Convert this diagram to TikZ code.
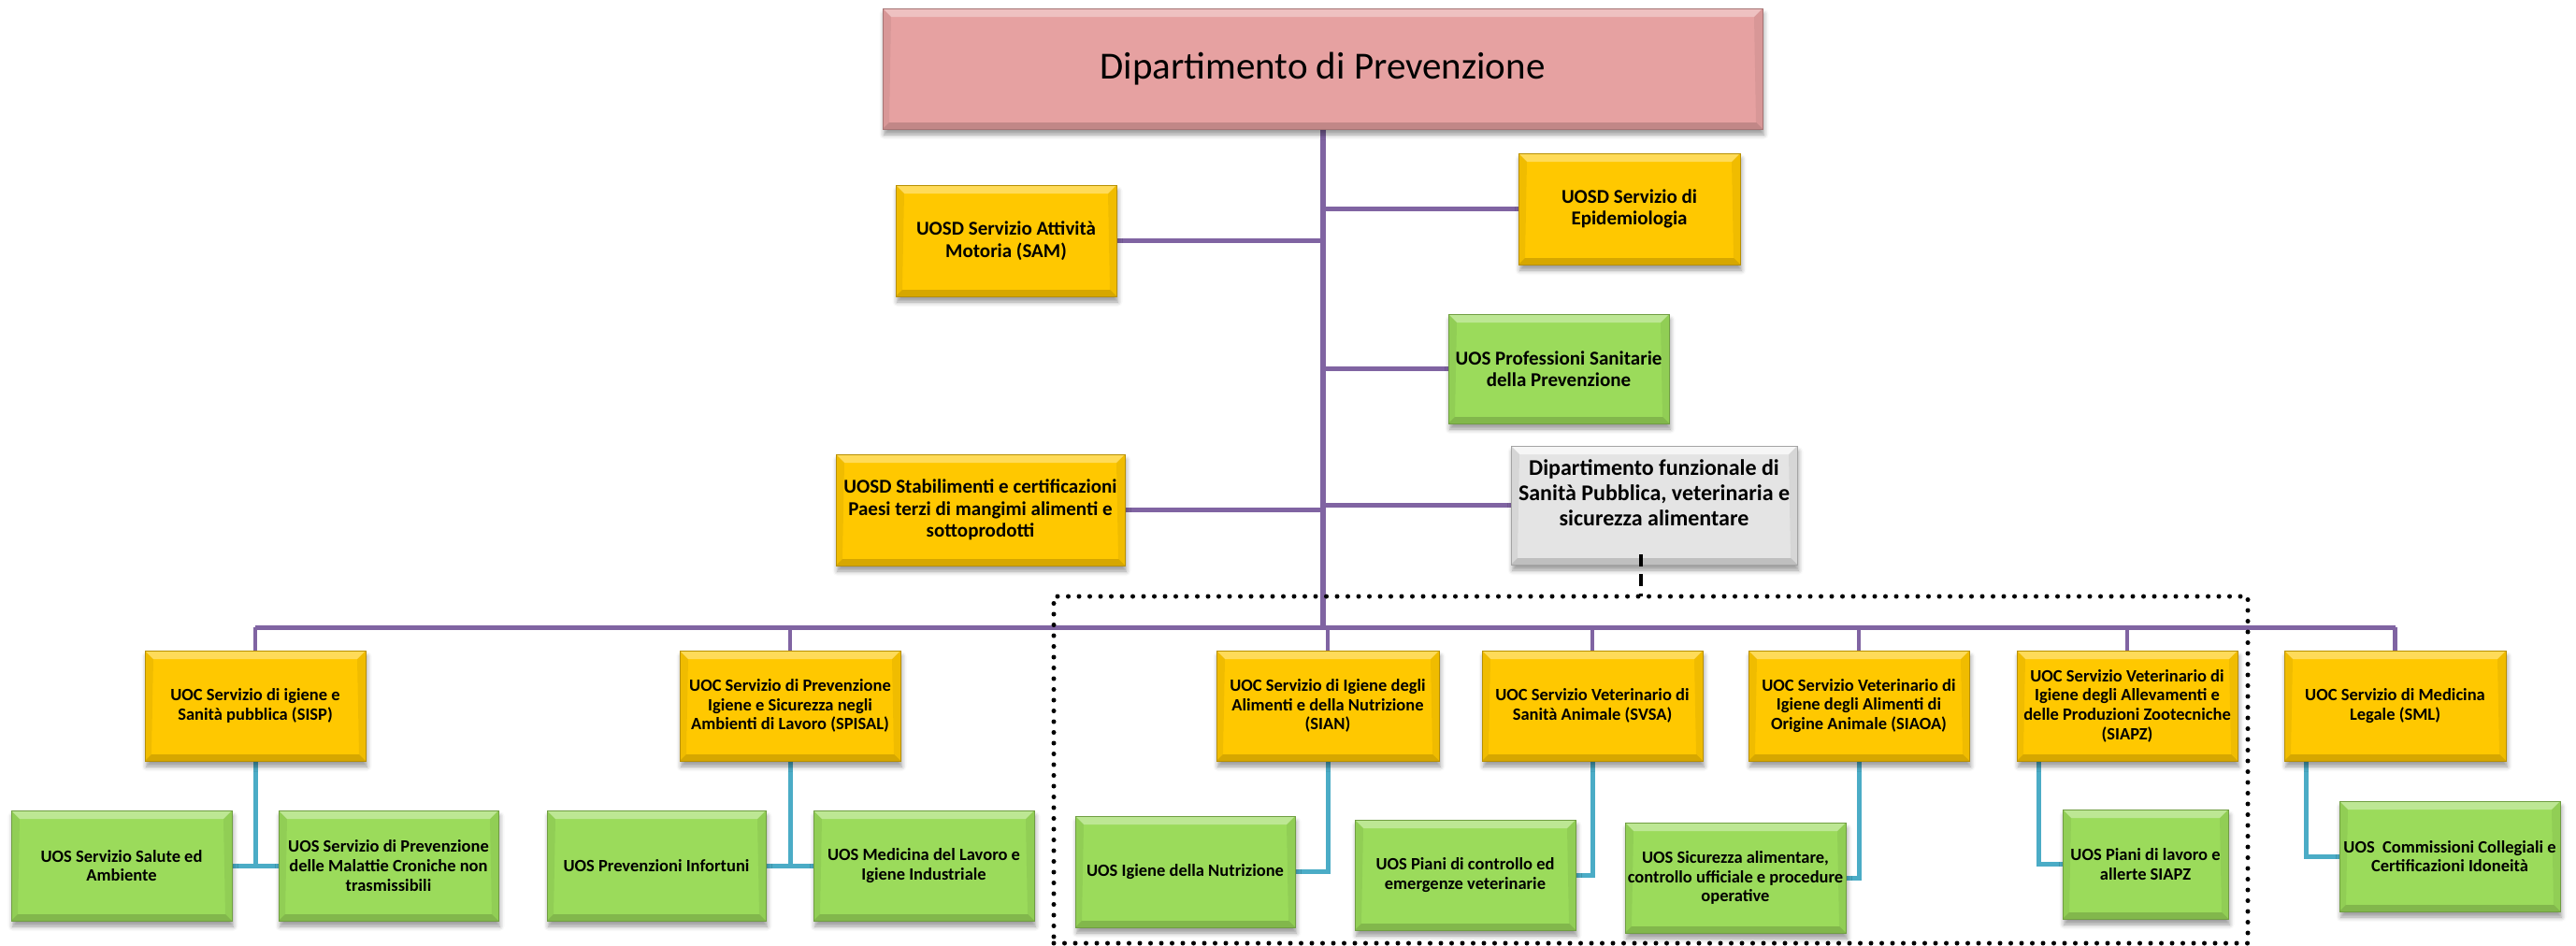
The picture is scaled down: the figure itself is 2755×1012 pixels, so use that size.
\documentclass[tikz,border=0pt]{standalone}
\usepackage{fontspec}
\setmainfont{Carlito}
\usetikzlibrary{shadows.blur,backgrounds}

\definecolor{orgpurple}{HTML}{8064A2}
\definecolor{orgblue}{HTML}{4BACC6}
\definecolor{uocyellow}{HTML}{FFC800}
\definecolor{uosgreen}{HTML}{9BDB5B}
\definecolor{headpink}{HTML}{E6A1A1}
\definecolor{funcgrey}{HTML}{E4E4E4}

\tikzset{
  bevel/.style={path picture={
    \fill[white,fill opacity=#1]
      (path picture bounding box.north west) -- (path picture bounding box.north east)
      -- ([xshift=-9pt,yshift=-9pt]path picture bounding box.north east)
      -- ([xshift=9pt,yshift=-9pt]path picture bounding box.north west) -- cycle;
    \fill[black,fill opacity=0.16]
      (path picture bounding box.south west) -- (path picture bounding box.south east)
      -- ([xshift=-7pt,yshift=7pt]path picture bounding box.south east)
      -- ([xshift=7pt,yshift=7pt]path picture bounding box.south west) -- cycle;
    \fill[black,fill opacity=0.06]
      (path picture bounding box.north west) -- ([xshift=9pt,yshift=-9pt]path picture bounding box.north west)
      -- ([xshift=7pt,yshift=7pt]path picture bounding box.south west) -- (path picture bounding box.south west) -- cycle;
    \fill[black,fill opacity=0.06]
      (path picture bounding box.north east) -- ([xshift=-9pt,yshift=-9pt]path picture bounding box.north east)
      -- ([xshift=-7pt,yshift=7pt]path picture bounding box.south east) -- (path picture bounding box.south east) -- cycle;
  }},
  orgbox/.style={rectangle, inner sep=0pt, outer sep=0pt, align=center,
    fill=#1, draw=#1!72!black, line width=0.8pt,
    blur shadow={shadow xshift=1.5pt, shadow yshift=-6pt, shadow blur radius=5pt, shadow opacity=40},
    bevel=0.35},
  headbox/.style={orgbox=headpink, font=\fontsize{41}{49}\selectfont},
  upperbox/.style={orgbox=#1, font=\fontsize{21}{23.5}\selectfont\bfseries},
  funcbox/.style={orgbox=funcgrey, bevel=0.7, font=\fontsize{24}{27}\selectfont\bfseries},
  uocbox/.style={orgbox=uocyellow, font=\fontsize{18.5}{20.7}\selectfont\bfseries,
    minimum height=118pt},
  uosbox/.style={orgbox=uosgreen, font=\fontsize{18.5}{20.7}\selectfont\bfseries},
  trunk/.style={draw=orgpurple, line width=6pt},
  branch/.style={draw=orgpurple, line width=5pt},
  drop/.style={draw=orgpurple, line width=4.5pt},
  sub/.style={draw=orgblue, line width=5pt},
  dashline/.style={draw=black, line width=4pt, dash pattern=on 13pt off 8pt},
  zone/.style={draw=black, line width=5pt, dash pattern=on 0pt off 11.5pt, line cap=round,
    inner sep=0pt, outer sep=0pt}
}

\begin{document}
\begin{tikzpicture}[x=1pt, y=-1pt]
\useasboundingbox (0,0) rectangle (2755,1012);

% area of the functional department
\node[zone, minimum width=1277pt, minimum height=371pt] (dipzone) at (1765.5,823.5) {};

% head
\node[headbox, minimum width=941pt, minimum height=129pt] (top) at (1414.5,73.5)
  {Dipartimento di Prevenzione};

% staff units
\node[upperbox=uocyellow, minimum width=236pt, minimum height=119pt] (sam) at (1076,257.5)
  {UOSD Servizio Attività\\Motoria (SAM)};
\node[upperbox=uocyellow, minimum width=237pt, minimum height=119pt] (epid) at (1742.5,223.5)
  {UOSD Servizio di\\Epidemiologia};
\node[upperbox=uosgreen, minimum width=236pt, minimum height=117pt] (prof) at (1667,394.5)
  {UOS Professioni Sanitarie\\della Prevenzione};
\node[upperbox=uocyellow, minimum width=309pt, minimum height=119pt] (stab) at (1048.5,545.5)
  {UOSD Stabilimenti e certificazioni\\Paesi terzi di mangimi alimenti e\\sottoprodotti};
\node[funcbox, minimum width=306pt, minimum height=127pt] (dipf) at (1769,540.5) {};
\node[font=\fontsize{24}{27}\selectfont\bfseries, align=center, inner sep=0pt] (dipftext)
  at ([yshift=13pt]dipf.center)
  {Dipartimento funzionale di\\Sanità Pubblica, veterinaria e\\sicurezza alimentare};

% complex units
\node[uocbox, minimum width=236pt] (sisp) at (273,755)
  {UOC Servizio di igiene e\\Sanità pubblica (SISP)};
\node[uocbox, minimum width=236pt] (spisal) at (845,755)
  {UOC Servizio di Prevenzione\\Igiene e Sicurezza negli\\Ambienti di Lavoro (SPISAL)};
\node[uocbox, minimum width=238pt] (sian) at (1420,755)
  {UOC Servizio di Igiene degli\\Alimenti e della Nutrizione\\(SIAN)};
\node[uocbox, minimum width=236pt] (svsa) at (1703,755)
  {UOC Servizio Veterinario di\\Sanità Animale (SVSA)};
\node[uocbox, minimum width=236pt] (siaoa) at (1988,755)
  {UOC Servizio Veterinario di\\Igiene degli Alimenti di\\Origine Animale (SIAOA)};
\node[uocbox, minimum width=236pt] (siapz) at (2275,755)
  {UOC Servizio Veterinario di\\Igiene degli Allevamenti e\\delle Produzioni Zootecniche\\(SIAPZ)};
\node[uocbox, minimum width=237pt] (sml) at (2561.5,755)
  {UOC Servizio di Medicina\\Legale (SML)};

% simple units
\node[uosbox, minimum width=236pt, minimum height=118pt] (salute) at (130,926)
  {UOS Servizio Salute ed\\Ambiente};
\node[uosbox, minimum width=235pt, minimum height=118pt] (croniche) at (415.5,926)
  {UOS Servizio di Prevenzione\\delle Malattie Croniche non\\trasmissibili};
\node[uosbox, minimum width=234pt, minimum height=118pt] (infortuni) at (702,926)
  {UOS Prevenzioni Infortuni};
\node[uosbox, minimum width=236pt, minimum height=118pt] (medlav) at (988,926)
  {UOS Medicina del Lavoro e\\Igiene Industriale};
\node[uosbox, minimum width=235pt, minimum height=119pt] (nutriz) at (1267.5,932.5)
  {UOS Igiene della Nutrizione};
\node[uosbox, minimum width=236pt, minimum height=118pt] (pctrl) at (1567,936)
  {UOS Piani di controllo ed\\emergenze veterinarie};
\node[uosbox, minimum width=236pt, minimum height=118pt] (sicalim) at (1856,939)
  {UOS Sicurezza alimentare,\\controllo ufficiale e procedure\\operative};
\node[uosbox, minimum width=177pt, minimum height=117pt] (plavoro) at (2294.5,924.5)
  {UOS Piani di lavoro e\\allerte SIAPZ};
\node[uosbox, minimum width=236pt, minimum height=118pt] (commiss) at (2620,916)
  {UOS\ \ Commissioni Collegiali e\\Certificazioni Idoneità};

\coordinate (bus) at (1416,671);

\begin{scope}[on background layer]
  % main line and staff branches
  \draw[trunk] (top.south) -- (top.south |- bus);
  \draw[branch] (sam.east) -- (sam.east -| top.south);
  \draw[branch] (epid.west) -- (epid.west -| top.south);
  \draw[branch] (prof.west) -- (prof.west -| top.south);
  \draw[branch] (stab.east) -- (stab.east -| top.south);
  \draw[branch] (dipf.west) -- (dipf.west -| top.south);
  % bus to the complex units
  \draw[branch] (sisp.north |- bus) -- (sml.north |- bus);
  \foreach \u in {sisp,spisal,sian,svsa,siaoa,siapz,sml}
    \draw[drop] (\u.north |- bus) -- (\u.north);
  % simple units
  \draw[sub] (sisp.south) -- (sisp.south |- salute.east);
  \draw[sub] (salute.east) -- (croniche.west);
  \draw[sub] (spisal.south) -- (spisal.south |- infortuni.east);
  \draw[sub] (infortuni.east) -- (medlav.west);
  \draw[sub] (sian.south) |- (nutriz.east);
  \draw[sub] (svsa.south) |- (pctrl.east);
  \draw[sub] (siaoa.south) |- (sicalim.east);
  \draw[sub] ([xshift=23pt]siapz.south west) |- (plavoro.west);
  \draw[sub] ([xshift=23pt]sml.south west) |- (commiss.west);
\end{scope}

% functional link
\draw[dashline] ([xshift=-14pt,yshift=11pt]dipf.south) -- ([xshift=-14pt]dipf.south |- dipzone.north);
\end{tikzpicture}
\end{document}
